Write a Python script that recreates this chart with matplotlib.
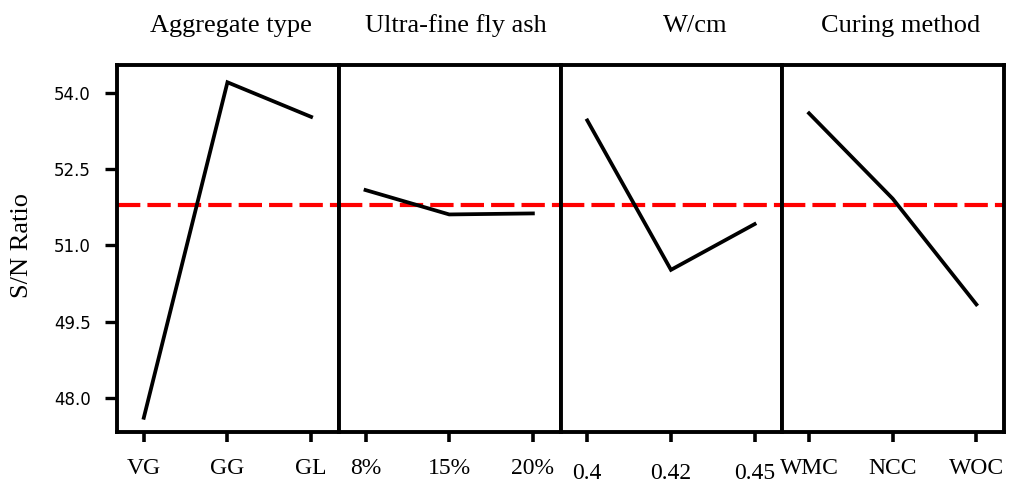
import matplotlib
matplotlib.use("Agg")
import matplotlib.pyplot as plt

# Data (S/N ratio main effects)
factors = ["Aggregate type", "Ultra-fine fly ash", "W/cm", "Curing method"]
levels = [["VG", "GG", "GL"],
          ["8%", "15%", "20%"],
          ["0.4", "0.42", "0.45"],
          ["WMC", "NCC", "WOC"]]
sn_aggregate = [47.61, 54.21, 53.53]
sn_flyash = [52.09, 51.61, 51.63]
sn_wcm = [53.46, 50.52, 51.42]
sn_curing = [53.60, 51.92, 49.84]
sn_values = [sn_aggregate, sn_flyash, sn_wcm, sn_curing]
overall_mean = 51.80
yticks = [48.0, 49.5, 51.0, 52.5, 54.0]

W, H = 1023, 488
fig = plt.figure(figsize=(W / 100, H / 100), dpi=100)
left, right, top, bottom = 117, 1004, 65, 432
pw = (right - left) / 4
title_x = [0.514, 0.527, 0.606, 0.532]
label_pad = [12, 12, 15, 12]

serif = ["Liberation Serif", "DejaVu Serif"]
axes = []
for i in range(4):
    ax = fig.add_axes([(left + i * pw) / W, 1 - bottom / H, pw / W, (bottom - top) / H])
    axes.append(ax)
    x = [1, 2, 3]
    ax.axhline(overall_mean, color="#ff0000", lw=3.0, dashes=(5.6, 1.7), zorder=2)
    ax.plot(x, sn_values[i], color="black", lw=2.7, zorder=3, solid_joinstyle="miter")
    ax.set_xlim(0.68, 3.33)
    ax.set_ylim(47.33, 54.55)
    ax.set_xticks(x)
    ax.set_xticklabels(levels[i], fontfamily=serif, fontsize=17)
    ax.tick_params(axis="x", length=7, width=2.6, pad=label_pad[i], direction="out")
    for s in ax.spines.values():
        s.set_linewidth(2.8)
    if i == 0:
        ax.set_yticks(yticks)
        ax.set_yticklabels([f"{v:.1f}" for v in yticks], fontfamily="DejaVu Sans", fontsize=12)
        ax.tick_params(axis="y", length=9, width=2.4, pad=10, direction="out")
    else:
        ax.set_yticks([])
    ax.annotate(factors[i], xy=(title_x[i], 1), xycoords="axes fraction",
                xytext=(0, 20), textcoords="offset points", ha="center", va="bottom",
                fontfamily=serif, fontsize=19)

fig.text(22 / W, 1 - 245 / H, "S/N Ratio", rotation=90, ha="center", va="center",
         fontfamily=serif, fontsize=19)

fig.savefig("out.png", dpi=100)
